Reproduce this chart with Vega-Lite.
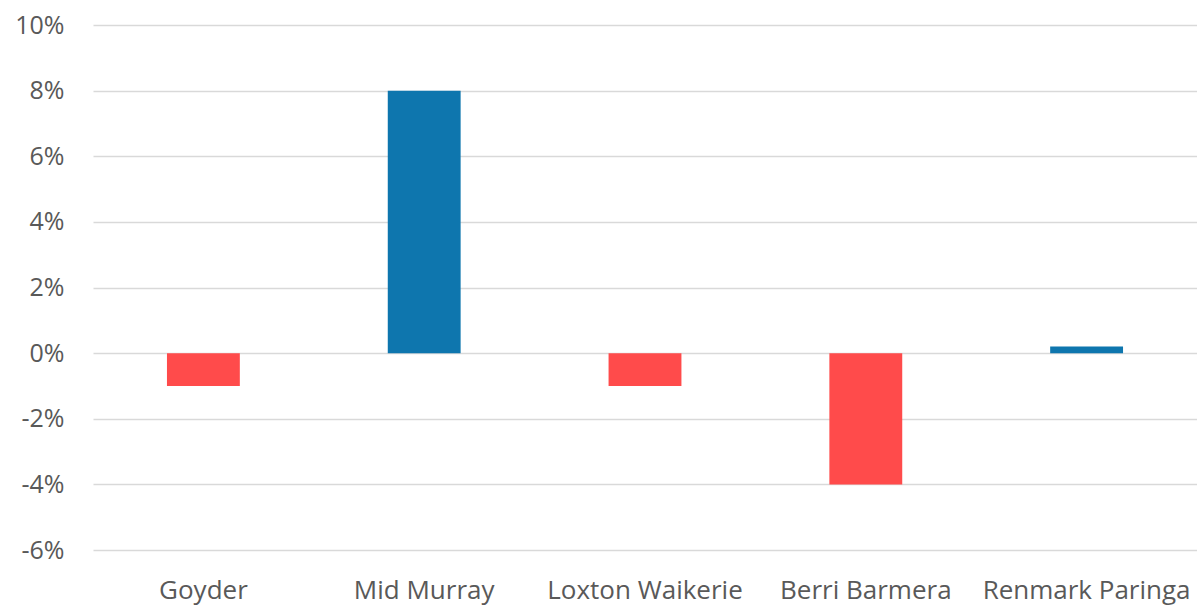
{
  "$schema": "https://vega.github.io/schema/vega-lite/v6.json",
  "width": 1104,
  "height": 525,
  "autosize": {"type": "none"},
  "padding": {"left": 93, "top": 25, "right": 0, "bottom": 58},
  "background": "white",
  "config": {
    "view": {"stroke": null},
    "font": "Open Sans"
  },
  "data": {
    "values": [
      {"area": "Goyder", "change": -0.01},
      {"area": "Mid Murray", "change": 0.08},
      {"area": "Loxton Waikerie", "change": -0.01},
      {"area": "Berri Barmera", "change": -0.04},
      {"area": "Renmark Paringa", "change": 0.002}
    ]
  },
  "mark": {"type": "bar"},
  "encoding": {
    "x": {
      "field": "area",
      "type": "nominal",
      "sort": null,
      "scale": {"paddingInner": 0.67, "paddingOuter": 0.335},
      "axis": {
        "title": null,
        "labelAngle": 0,
        "labelFont": "Open Sans",
        "labelFontSize": 26,
        "labelColor": "#595959",
        "labelPadding": 27,
        "labelLimit": 400,
        "labelOverlap": false,
        "domain": false,
        "ticks": false,
        "grid": false
      }
    },
    "y": {
      "field": "change",
      "type": "quantitative",
      "scale": {"domain": [-0.06, 0.1], "nice": false},
      "axis": {
        "title": null,
        "values": [-0.06, -0.04, -0.02, 0, 0.02, 0.04, 0.06, 0.08, 0.1],
        "labelExpr": "replace(format(datum.value, '.0%'), '\u2212', '-')",
        "labelFont": "Open Sans",
        "labelFontSize": 25,
        "labelColor": "#595959",
        "labelPadding": 29,
        "domain": false,
        "ticks": false,
        "grid": true,
        "gridColor": "#d9d9d9",
        "gridWidth": 1.5
      }
    },
    "color": {
      "condition": {"test": "datum.change < 0", "value": "#FF4B4B"},
      "value": "#0E76AE"
    }
  }
}
